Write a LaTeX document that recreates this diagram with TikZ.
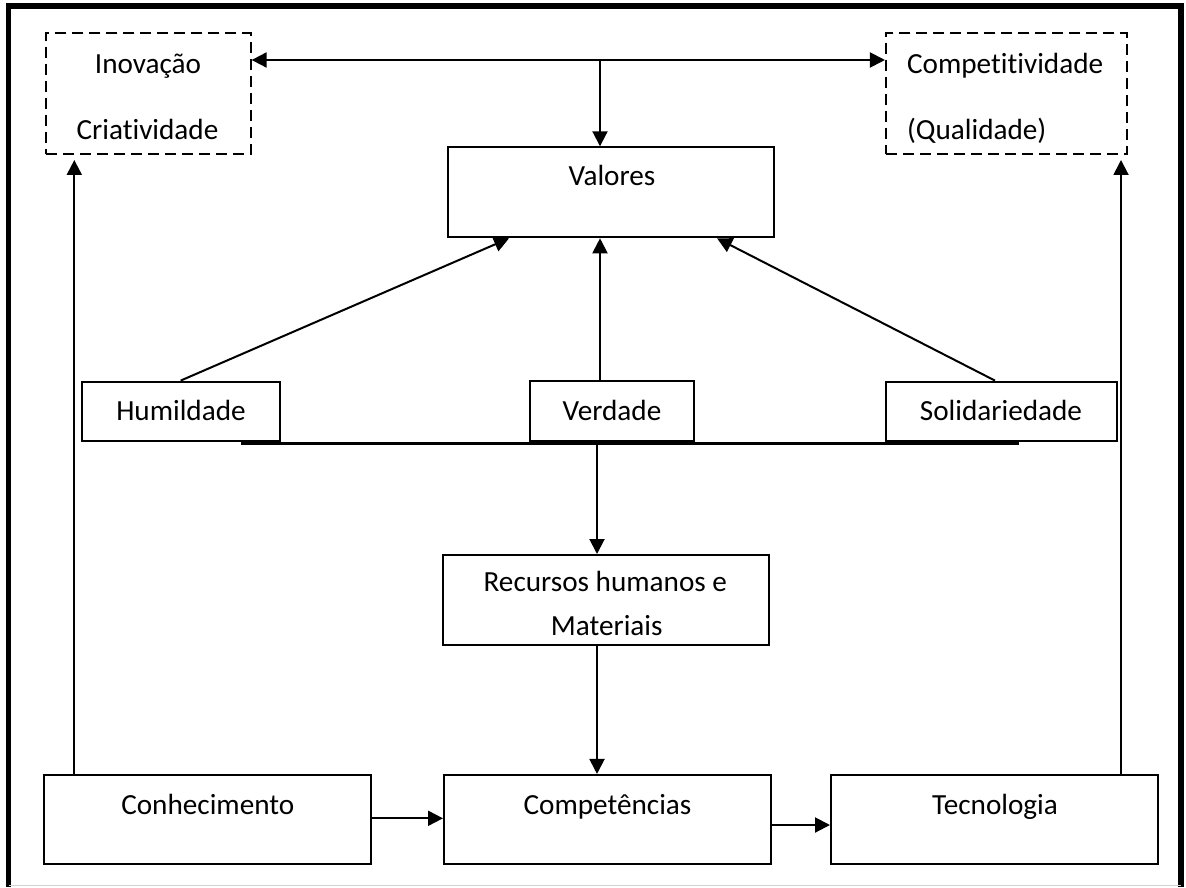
\documentclass[tikz,border=0pt]{standalone}
\usepackage{fontspec}
\setmainfont{Carlito}[Ligatures=NoCommon]
\usetikzlibrary{arrows.meta}
\begin{document}
\begin{tikzpicture}[x=0.5pt,y=-0.5pt,
  box/.style={draw, line width=1pt, inner sep=0pt},
  dbox/.style={box, dash pattern=on 5.5pt off 3pt},
  txt/.style={inner sep=0pt, anchor=base, font=\fontsize{14.6pt}{17pt}\selectfont},
  tip/.tip={Triangle[length=7.5pt,width=7.5pt]},
  conn/.style={line width=1pt, -tip},
  link/.style={line width=1pt},
  frame/.style={line width=2.8pt}]
\useasboundingbox (0,0) rectangle (1186,887);

% page frame
\draw[frame] (8.5,887) -- (8.5,6) -- (1181,6) -- (1181,887);
\draw[gray!35, line width=0.8pt] (8.5,885.5) -- (1181,885.5);

% boxes
\node[dbox, minimum width=102.35pt, minimum height=60.5pt] (inov) at (148.3,93.5) {};
\node[dbox, minimum width=120.35pt, minimum height=60.5pt] (qual) at (1006.3,93.5) {};
\node[box, minimum width=162.85pt, minimum height=45pt] (valores) at (611.2,192.3) {};
\node[box, minimum width=99.15pt, minimum height=29.7pt] (humil) at (180.8,411.3) {};
\node[box, minimum width=82pt, minimum height=30pt] (verd) at (612,411.3) {};
\node[box, minimum width=115.35pt, minimum height=29.7pt] (solid) at (1001.3,411.3) {};
\node[box, minimum width=163.15pt, minimum height=45pt] (recur) at (605.8,600) {};
\node[box, minimum width=163.35pt, minimum height=44.65pt] (conhec) at (207.3,819.6) {};
\node[box, minimum width=163.4pt, minimum height=44.65pt] (compet) at (607.4,819.6) {};
\node[box, minimum width=163.5pt, minimum height=44.65pt] (tecno) at (994.5,819.6) {};

% texts
\node[txt] (inov-a) at (148,74) {Inovação};
\node[txt] (inov-b) at (147.5,140) {Criatividade};
\node[txt, anchor=base west] (qual-a) at (906.7,74) {Competitividade};
\node[txt, anchor=base west] (qual-b) at (906.7,140) {(Qualidade)};
\node[txt] (valores-t) at (612,186) {Valores};
\node[txt] (humil-t) at (181,420) {Humildade};
\node[txt] (verd-t) at (612,420) {Verdade};
\node[txt] (solid-t) at (1001,420) {Solidariedade};
\node[txt] (recur-a) at (605.3,591.7) {Recursos humanos e};
\node[txt] (recur-b) at (606.7,635) {Materiais};
\node[txt] (conhec-t) at (207.8,814) {Conhecimento};
\node[txt] (compet-t) at (607.5,814) {Competências};
\node[txt] (tecno-t) at (995,814) {Tecnologia};

% reference points for the connectors
\coordinate (topmid) at (600,60);
\coordinate (lx) at (74.3,0);
\coordinate (rx) at (1121,0);
\coordinate (hl) at (241,443.3);
\coordinate (hr) at (1018.7,443.3);
\coordinate (hm) at (597,443.3);

% top row
\draw[link, tip-tip] (inov.east |- topmid) -- (qual.west |- topmid);
\draw[conn] (topmid) -- (topmid |- valores.north);

% side columns
\draw[conn, shorten >=2.5pt] (lx |- conhec.north) -- (lx |- inov.south);
\draw[conn, shorten >=2.5pt] (rx |- tecno.north) -- (rx |- qual.south);

% values feeding into Valores
\draw[conn] ([xshift=50pt]humil.north west) -- ([xshift=30.85pt]valores.south west);
\draw[conn] (topmid |- verd.north) -- (topmid |- valores.south);
\draw[conn] ([xshift=55pt]solid.north west) -- ([xshift=134.85pt]valores.south west);

% base line under the values and the central column
\draw[line width=1.2pt] (hl) -- (hr);
\draw[conn] (hm) -- (hm |- recur.north);
\draw[conn] (hm |- recur.south) -- (hm |- compet.north);

% bottom row
\draw[conn] (conhec.east |- 0,818.3) -- (compet.west |- 0,818.3);
\draw[conn] (compet.east |- 0,825) -- (tecno.west |- 0,825);
\end{tikzpicture}
\end{document}
